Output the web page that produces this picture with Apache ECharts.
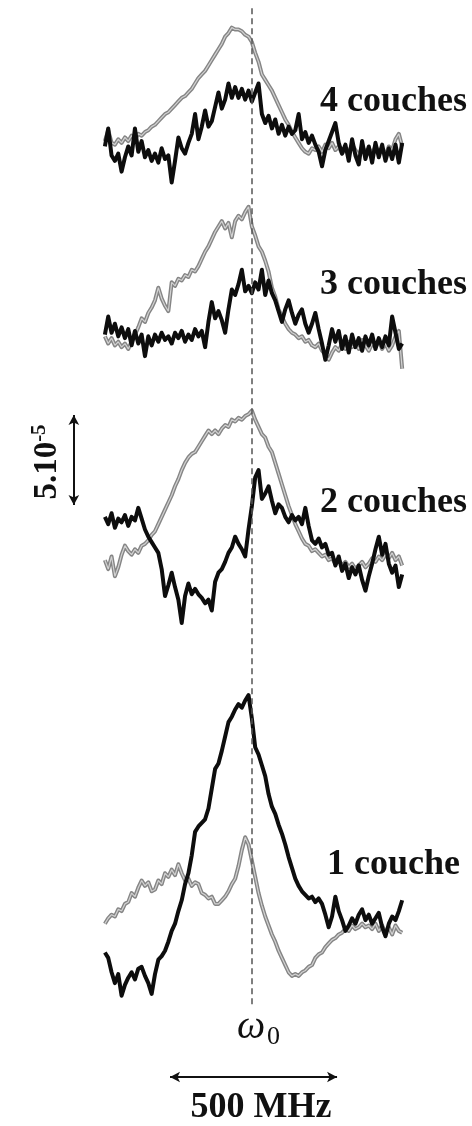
<!DOCTYPE html>
<html>
<head>
<meta charset="utf-8">
<script src="https://cdn.jsdelivr.net/npm/echarts@6/dist/echarts.min.js"></script>
<style>
html,body{margin:0;padding:0;background:#fff;}
#chart{width:472px;height:1126px;}
</style>
</head>
<body>
<div id="chart"></div>
<script>
// Frequency detuning relative to omega0 (MHz)
const freqMHz = [-440,-430,-420,-410,-400,-390,-380,-370,-360,-350,
  -340,-330,-320,-310,-300,-290,-280,-270,-260,-250,
  -240,-230,-220,-210,-200,-190,-180,-170,-160,-150,
  -140,-130,-120,-110,-100,-90,-80,-70,-60,-50,
  -40,-30,-20,-10,0,10,20,30,40,50,
  60,70,80,90,100,110,120,130,140,150,
  160,170,180,190,200,210,220,230,240,250,
  260,270,280,290,300,310,320,330,340,350,
  360,370,380,390,400,410,420,430,440,450];

// Signals in units of 1e-5, relative to each panel's baseline
const gray4 = [0.5,1.1,0.4,0.3,0.6,0.4,0.7,0.5,0.8,0.6,
  0.9,0.8,1.0,1.1,1.3,1.4,1.6,1.8,2.0,2.1,
  2.3,2.5,2.7,2.9,3.0,3.2,3.4,3.7,4.0,4.2,
  4.4,4.7,5.0,5.3,5.6,5.9,6.3,6.5,6.8,6.7,
  6.7,6.6,6.4,6.3,6.0,5.4,4.9,4.2,3.9,3.6,
  3.3,2.9,2.5,2.1,1.7,1.4,1.0,0.7,0.4,0.1,
  -0.1,-0.2,0.1,0.0,0.2,-0.1,0.3,0.1,0.4,0.0,
  0.2,-0.2,0.1,-0.1,0.3,0.0,-0.3,0.2,-0.1,0.1,
  -0.2,0.2,-0.1,0.1,-0.3,0.2,0.0,0.6,0.9,0.2];
const black4 = [0.2,1.2,-0.3,-0.6,-0.2,-1.2,-0.4,0.2,-0.3,1.2,
  -0.1,0.5,-0.4,0.0,-0.6,-0.2,-0.7,0.1,-0.5,-0.3,
  -1.8,-0.6,0.7,0.1,-0.2,0.4,0.9,2.0,0.6,1.3,
  2.2,1.3,1.6,2.4,3.2,2.3,2.8,3.7,2.9,3.5,
  2.9,3.4,2.8,3.3,2.7,3.2,3.7,2.0,1.5,1.9,
  1.2,1.7,0.9,1.4,0.8,1.3,0.9,1.1,2.0,0.6,
  1.0,0.4,0.8,0.3,-0.1,-0.9,0.0,0.5,1.0,1.5,
  0.4,-0.2,0.3,-0.6,0.6,-0.3,-0.8,0.5,-0.5,0.2,
  -0.7,0.4,-0.4,0.3,-0.6,0.1,-0.5,0.3,-0.7,0.4];
const gray3 = [0.2,-0.2,0.1,-0.3,-0.1,-0.4,-0.2,-0.5,-0.1,0.3,
  0.7,1.2,1.0,1.5,1.8,2.2,2.9,2.3,1.9,1.6,
  3.2,3.0,3.4,3.3,3.6,3.5,3.9,3.8,4.1,4.5,
  4.9,5.2,5.6,6.0,6.3,6.6,6.2,6.5,5.7,6.6,
  6.9,6.7,7.1,7.4,6.3,5.8,5.2,4.9,4.4,3.8,
  2.9,2.4,1.7,1.3,0.9,0.6,0.4,0.3,0.1,0.2,
  -0.1,0.0,-0.3,-0.4,-0.2,-0.6,-0.8,-1.1,-0.7,-0.4,
  -0.6,-0.2,-0.5,-0.1,-0.4,-0.2,-0.5,0.0,-0.3,-0.6,
  -0.2,-0.4,0.0,-0.5,-0.2,-0.6,-0.3,0.2,0.5,-1.6];
const black3 = [0.3,1.3,0.4,0.9,0.2,0.7,0.1,0.6,-0.3,0.5,
  -0.2,0.3,-0.9,0.2,-0.3,0.3,-0.1,0.4,0.0,0.2,
  -0.2,0.4,0.1,0.5,-0.1,0.3,0.0,0.6,0.2,0.5,
  -0.4,1.0,2.1,1.2,1.6,1.1,0.4,1.7,2.8,2.5,
  3.1,3.9,2.7,3.0,2.6,3.2,2.8,3.9,2.5,3.3,
  2.6,2.2,1.6,1.0,1.7,2.2,1.5,0.9,1.4,1.7,
  0.9,0.4,0.9,1.5,0.6,-0.2,-1.1,-0.3,0.6,-0.1,
  0.5,-0.5,0.2,-0.7,0.3,-0.4,0.1,-0.6,0.2,-0.3,
  0.3,-0.5,0.1,-0.4,0.2,-0.3,1.3,0.4,-0.5,-0.2];
const gray2 = [0.0,-0.5,0.2,-0.9,-0.4,0.3,0.8,0.5,0.3,0.6,
  0.4,0.8,0.9,1.1,1.4,1.6,2.0,2.4,2.8,3.2,
  3.6,4.1,4.5,5.0,5.4,5.7,5.9,6.0,6.3,6.6,
  6.9,7.2,7.0,7.2,7.0,7.3,7.5,7.4,7.8,7.7,
  7.9,7.8,8.0,8.1,8.3,7.8,7.4,7.0,6.8,6.3,
  6.0,5.4,4.8,4.2,3.6,3.0,2.5,2.0,1.6,1.2,
  0.9,0.8,0.5,0.6,0.4,0.2,0.3,0.0,0.1,-0.2,
  0.0,-0.3,-0.1,-0.4,-0.2,-0.5,-0.3,-0.1,-0.4,-0.2,
  0.1,-0.1,0.2,0.0,0.3,0.1,0.4,0.0,0.2,-0.3];
const black2 = [2.4,2.0,2.6,1.8,2.3,2.1,2.5,1.9,2.4,2.2,
  2.9,2.3,1.7,1.3,1.0,0.7,0.4,-0.5,-2.0,-1.4,
  -0.7,-1.5,-2.2,-3.5,-2.0,-1.3,-1.9,-1.6,-1.9,-2.1,
  -2.4,-2.2,-2.8,-1.2,-0.7,-0.5,-0.1,0.4,0.7,1.3,
  0.9,0.6,0.2,1.7,3.0,4.6,5.0,3.4,3.7,4.1,
  3.3,2.6,3.1,2.9,2.4,2.1,2.5,2.2,2.4,2.0,
  2.9,1.9,1.1,0.9,1.2,0.7,0.9,0.3,0.4,-0.3,
  0.2,-0.6,-0.2,-1.0,-0.4,-0.8,-0.3,-1.1,-1.7,-0.9,
  -0.2,0.6,1.3,0.3,0.9,-0.2,-0.7,-0.3,-1.5,-0.8];
const gray1 = [-0.2,0.1,0.3,0.2,0.6,0.5,0.9,1.0,1.5,1.3,
  1.8,2.2,1.9,2.1,1.6,1.7,2.2,2.0,2.6,2.4,
  2.8,2.5,3.1,2.6,2.2,2.3,1.9,2.1,2.0,1.5,
  1.4,1.2,1.3,0.9,0.9,1.1,1.3,1.6,2.0,2.3,
  3.0,3.9,4.6,4.2,3.3,2.4,1.5,0.8,0.2,-0.3,
  -0.8,-1.2,-1.7,-2.1,-2.5,-2.9,-3.1,-3.0,-3.1,-2.9,
  -2.8,-2.6,-2.5,-2.1,-1.9,-1.8,-1.5,-1.3,-1.1,-1.0,
  -0.8,-0.7,-0.5,-0.6,-0.3,-0.5,-0.4,-0.2,-0.4,-0.3,
  -0.5,-0.2,-0.6,-0.3,-0.7,-0.4,-0.8,-0.3,-0.6,-0.7];
const black1 = [-1.8,-2.1,-2.9,-3.5,-3.0,-4.2,-3.6,-3.2,-2.9,-3.3,
  -2.7,-2.6,-3.1,-3.5,-4.1,-3.0,-2.2,-2.0,-1.7,-1.2,
  -0.6,-0.2,0.5,1.1,2.0,2.6,3.6,4.9,5.2,5.4,
  5.6,6.2,7.3,8.4,8.7,9.4,10.2,11.0,11.3,11.7,
  12.0,11.8,12.2,12.5,11.2,9.6,9.2,8.6,8.0,7.0,
  6.3,5.9,5.3,4.8,4.2,3.5,2.9,2.3,1.9,1.6,
  1.4,1.2,1.3,1.0,1.2,0.9,0.3,-0.4,0.2,1.3,
  0.5,0.0,-0.6,-0.3,0.1,-0.2,0.3,0.6,0.0,0.3,
  -0.2,0.1,0.4,-0.4,-0.9,-0.2,0.2,0.0,0.5,1.1];

// Vertical stacking offsets of the four panels (units of 1e-5)
const panelNames = ['4 couches','3 couches','2 couches','1 couche'];
const panelOffsets = [54.22, 43.67, 31.44, 11.44];
const grayTraces = [gray4, gray3, gray2, gray1];
const blackTraces = [black4, black3, black2, black1];

// Scale bars
const freqBarMHz = [-245, 255];   // 500 MHz
const ampBar = [34.5, 39.5];      // 5e-5

function pts(vals, off){ return freqMHz.map((f,i)=>[f, +(off+vals[i]).toFixed(3)]); }

const series = [];
for (let p=0;p<4;p++){
  series.push({type:'line', data:pts(grayTraces[p],panelOffsets[p]), showSymbol:false, silent:true,
    lineStyle:{color:'#858585', width:4, join:'round'}, z:2});
  series.push({type:'line', data:pts(grayTraces[p],panelOffsets[p]), showSymbol:false, silent:true,
    lineStyle:{color:'#d2d2d2', width:1.2}, z:3});
  series.push({type:'line', data:pts(blackTraces[p],panelOffsets[p]), showSymbol:false, silent:true,
    lineStyle:{color:'#0d0d0d', width:4, join:'round'}, z:4});
}
series.push({type:'line', data:[], silent:true, z:1,
  markLine:{silent:true, symbol:['none','none'], label:{show:false},
    lineStyle:{color:'#555', width:1.5, type:[6,4]},
    data:[[{coord:[0,62.1]},{coord:[0,6.6]}]]}});
series.push({type:'line', data:[], silent:true, z:5,
  markLine:{silent:true, symbol:['arrow','arrow'], symbolSize:[8,10], label:{show:false},
    lineStyle:{color:'#111', width:2, type:'solid'},
    data:[[{coord:[freqBarMHz[0],2.72]},{coord:[freqBarMHz[1],2.72]}],
          [{coord:[-533,ampBar[1]]},{coord:[-533,ampBar[0]]}]]}});

const chart = echarts.init(document.getElementById('chart'), null, {renderer:'canvas'});
const serif = '"Liberation Serif", "DejaVu Serif", serif';
const labelCenters = [102, 285, 503, 865];
const labelLefts = [320, 320, 320, 327];
const graphic = panelNames.map((t,i)=>({type:'text', x:labelLefts[i], y:labelCenters[i],
  style:{text:t, font:'bold 36px '+serif, fill:'#111', verticalAlign:'middle'}}));
graphic.push({type:'text', x:47, y:462, rotation:Math.PI/2,
  style:{text:'{a|5.10}{b|-5}', align:'center', verticalAlign:'middle',
    rich:{a:{font:'bold 33px '+serif, fill:'#111'}, b:{font:'bold 21px '+serif, fill:'#111', padding:[0,0,15,0]}}}});
graphic.push({type:'text', x:237, y:1027, style:{text:'ω', font:'italic 40px '+serif, fill:'#111', verticalAlign:'middle'}});
graphic.push({type:'text', x:267, y:1037, style:{text:'0', font:'26px '+serif, fill:'#111', verticalAlign:'middle'}});
graphic.push({type:'text', x:261, y:1108, style:{text:'500 MHz', font:'bold 36px '+serif, fill:'#111', align:'center', verticalAlign:'middle'}});

chart.setOption({
  animation:false,
  backgroundColor:'#fff',
  grid:{left:0, right:0, top:1, bottom:0},
  xAxis:{type:'value', min:-754, max:659, show:false},
  yAxis:{type:'value', min:0, max:62.5, show:false},
  series:series,
  graphic:graphic
});
</script>
</body>
</html>
